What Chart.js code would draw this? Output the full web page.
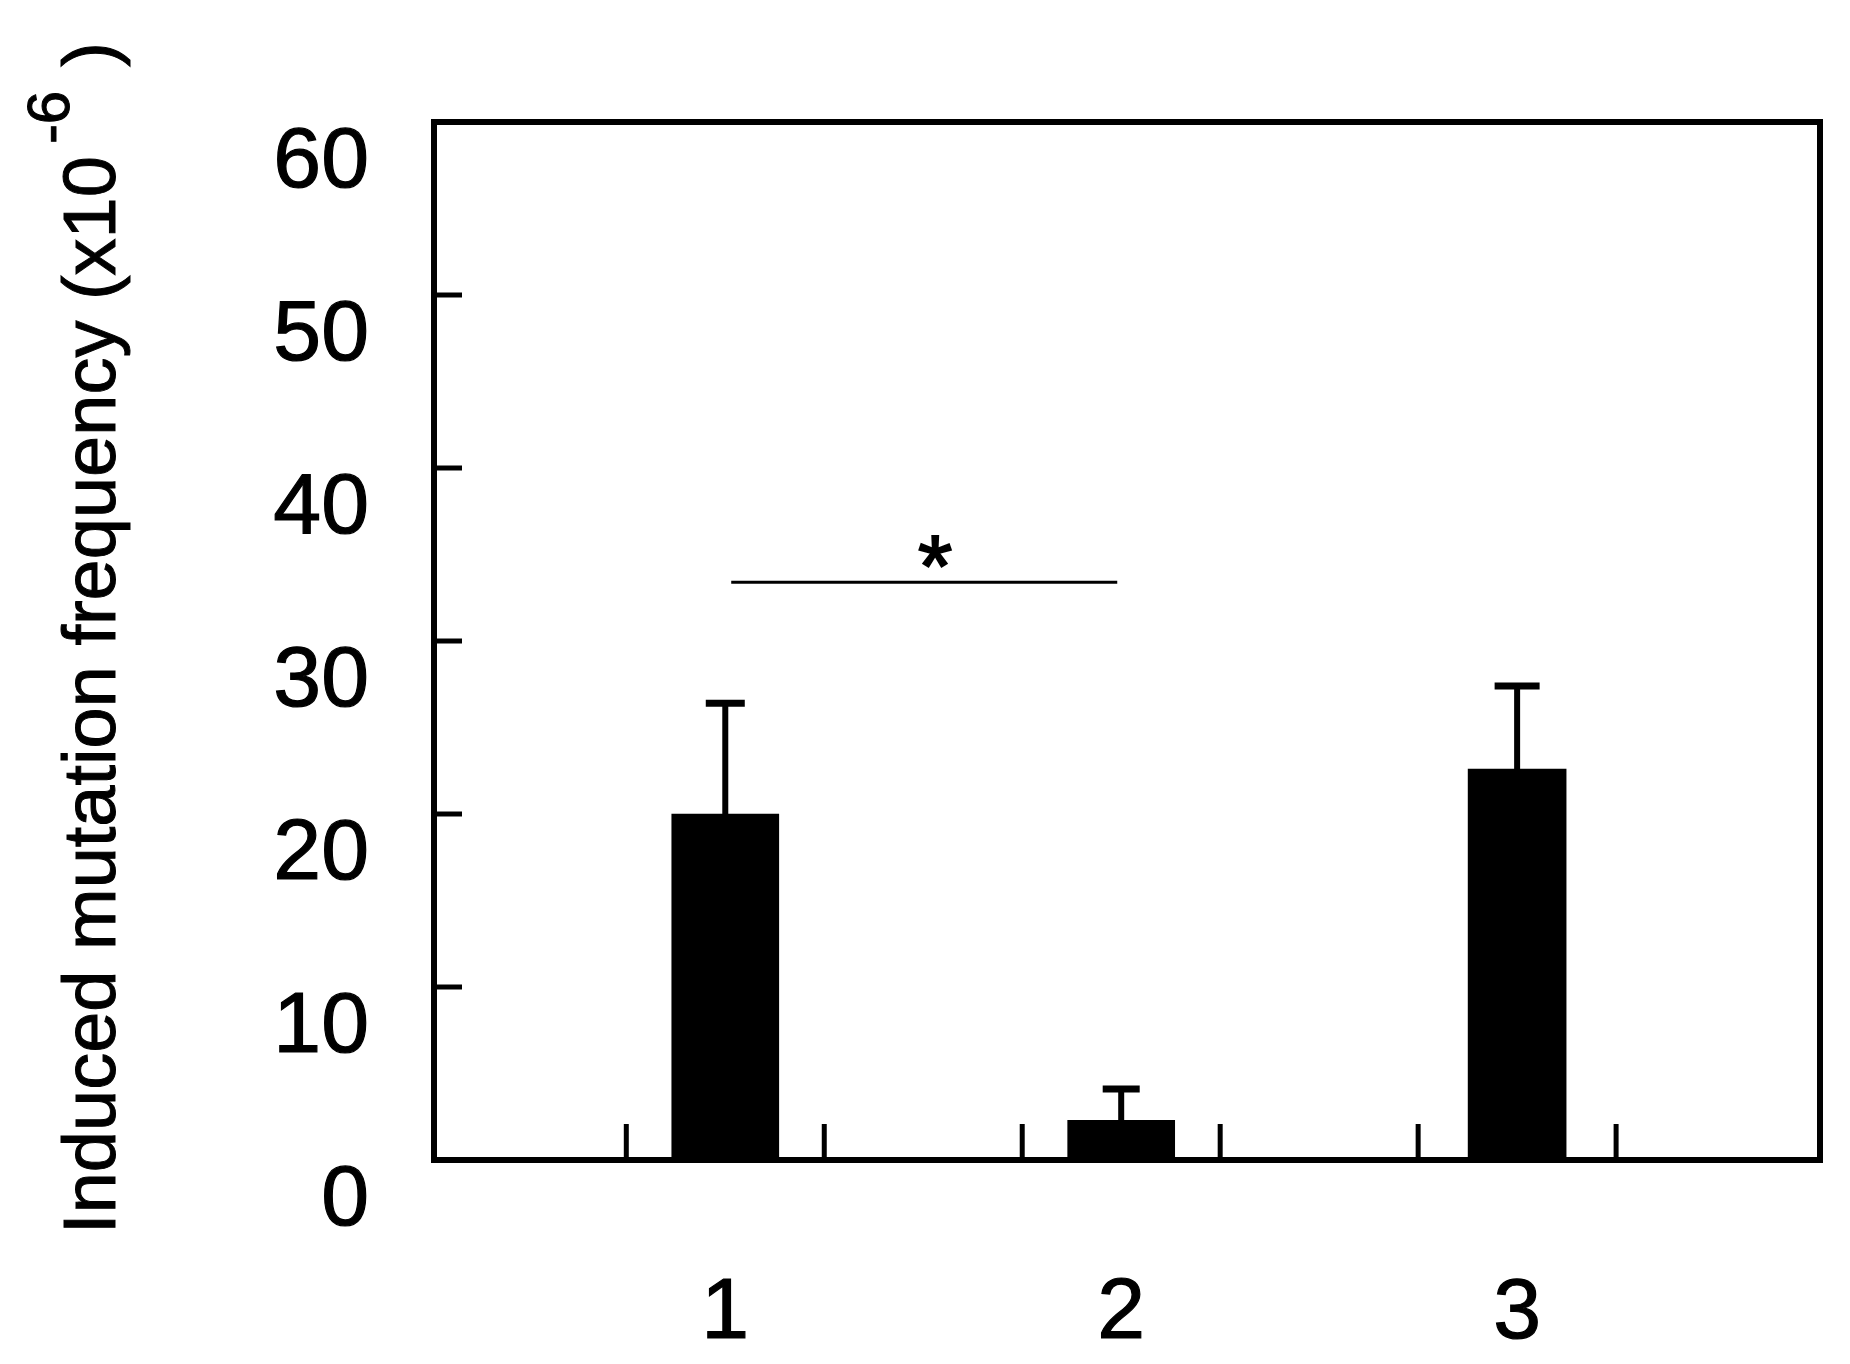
<!DOCTYPE html>
<html>
<head>
<meta charset="utf-8">
<script src="https://cdn.jsdelivr.net/npm/chart.js@4.4.0/dist/chart.umd.min.js"></script>
<style>
  html, body { margin: 0; padding: 0; background: #fff; }
</style>
</head>
<body>
<canvas id="myChart" width="1850" height="1364"></canvas>
<script>
// groups along the x axis
let groups = [1, 2, 3];
let groupLabels = ['1', '2', '3'];
// induced mutation frequency (x10^-6): bar height and top of error bar
let meanValues = [20.0, 2.3, 22.6];
let errorTops = [26.4, 4.1, 27.4];
// inner tick marks
let yTickValues = [10, 20, 30, 40, 50];
let xTickValues = [0.75, 1.25, 1.75, 2.25, 2.75, 3.25];
// significance bracket between group 1 and group 2
let sigFrom = 1.015;
let sigTo = 1.99;
let sigLevel = 33.4;
let sigMarkAt = 1.53;
let sigText = '*';

let fontName = '"Liberation Sans", Arial, Helvetica, sans-serif';

// bars 1 and 2 are slightly wider than bar 3 in the original
let wideIdx = [0, 1];
let barsWide = groups.map((g, i) => ({x: g, y: meanValues[i]})).filter((d, i) => wideIdx.includes(i));
let barsNarrow = groups.map((g, i) => ({x: g, y: meanValues[i]})).filter((d, i) => !wideIdx.includes(i));

// frame, inward ticks, error bars, bracket and the y title with superscript
const extrasPlugin = {
    id: 'extras',
    afterDatasetsDraw(chart) {
        const ctx = chart.ctx;
        const a = chart.chartArea;
        const x = chart.scales.x;
        const y = chart.scales.y;
        ctx.save();
        ctx.strokeStyle = '#000';
        ctx.fillStyle = '#000';
        ctx.lineCap = 'butt';

        // error bars
        const capW = [39, 37, 45];
        groups.forEach((g, i) => {
            const px = x.getPixelForValue(g);
            const y0 = y.getPixelForValue(meanValues[i]);
            const y1 = y.getPixelForValue(errorTops[i]);
            ctx.lineWidth = 6;
            ctx.beginPath();
            ctx.moveTo(px, y0);
            ctx.lineTo(px, y1);
            ctx.stroke();
            ctx.lineWidth = 7;
            ctx.beginPath();
            ctx.moveTo(px - capW[i] / 2, y1);
            ctx.lineTo(px + capW[i] / 2, y1);
            ctx.stroke();
        });

        // inward ticks
        ctx.lineWidth = 5;
        yTickValues.forEach(v => {
            const py = y.getPixelForValue(v);
            ctx.beginPath();
            ctx.moveTo(a.left, py);
            ctx.lineTo(a.left + 28, py);
            ctx.stroke();
        });
        xTickValues.forEach(v => {
            const px = x.getPixelForValue(v);
            ctx.beginPath();
            ctx.moveTo(px, a.bottom);
            ctx.lineTo(px, a.bottom - 36);
            ctx.stroke();
        });

        // frame
        ctx.lineWidth = 6;
        ctx.strokeRect(a.left, a.top, a.right - a.left, a.bottom - a.top);

        // significance bracket
        const sy = y.getPixelForValue(sigLevel);
        ctx.lineWidth = 3;
        ctx.beginPath();
        ctx.moveTo(x.getPixelForValue(sigFrom), sy);
        ctx.lineTo(x.getPixelForValue(sigTo), sy);
        ctx.stroke();
        ctx.font = '88px ' + fontName;
        ctx.textAlign = 'center';
        ctx.textBaseline = 'alphabetic';
        ctx.lineWidth = 2;
        ctx.fillText(sigText, x.getPixelForValue(sigMarkAt), sy + 14);
        ctx.strokeText(sigText, x.getPixelForValue(sigMarkAt), sy + 14);

        // y axis title
        const mainFont = '74px ' + fontName;
        const supFont = '60px ' + fontName;
        const t1 = 'Induced mutation frequency (x10';
        const t2 = '-6';
        const t3 = ')';
        const gap1 = 12;
        const gap2 = 24;
        ctx.font = mainFont;
        const w1 = ctx.measureText(t1).width;
        const w3 = ctx.measureText(t3).width;
        ctx.font = supFont;
        const w2 = ctx.measureText(t2).width;
        const total = w1 + gap1 + w2 + gap2 + w3;
        ctx.translate(115, (a.top + a.bottom) / 2 - 3);
        ctx.rotate(-Math.PI / 2);
        ctx.textAlign = 'left';
        ctx.lineWidth = 1;
        let sx = -total / 2;
        ctx.font = mainFont;
        ctx.fillText(t1, sx, 0);
        ctx.strokeText(t1, sx, 0);
        sx += w1 + gap1;
        ctx.font = supFont;
        ctx.fillText(t2, sx, -46);
        ctx.strokeText(t2, sx, -46);
        sx += w2 + gap2;
        ctx.font = mainFont;
        ctx.fillText(t3, sx, 0);
        ctx.strokeText(t3, sx, 0);
        ctx.restore();
    }
};

let ctx = document.getElementById('myChart').getContext('2d');
let myChart = new Chart(ctx, {
    type: 'bar',
    data: {
        datasets: [
            {
                data: barsWide,
                backgroundColor: '#000',
                borderWidth: 0,
                barThickness: 107,
                grouped: false
            },
            {
                data: barsNarrow,
                backgroundColor: '#000',
                borderWidth: 0,
                barThickness: 98,
                grouped: false
            }
        ]
    },
    options: {
        responsive: false,
        animation: false,
        devicePixelRatio: 1,
        layout: {
            padding: {left: 0, right: 30, top: 122, bottom: 0}
        },
        plugins: {
            legend: {display: false},
            tooltip: {enabled: false}
        },
        scales: {
            x: {
                type: 'linear',
                offset: false,
                min: 0.2643,
                max: 3.765,
                afterBuildTicks: s => { s.ticks = groups.map(v => ({value: v})); },
                afterFit: s => { s.height = 204; },
                grid: {display: false, drawTicks: false, offset: false},
                border: {display: false},
                ticks: {
                    color: '#000',
                    padding: 103,
                    maxRotation: 0,
                    autoSkip: false,
                    textStrokeColor: '#000',
                    textStrokeWidth: 1.2,
                    font: {family: fontName, size: 86, lineHeight: 1.2},
                    callback: v => groupLabels[groups.indexOf(v)]
                }
            },
            y: {
                min: 0,
                max: 60,
                afterFit: s => { s.width = 434; },
                grid: {display: false, drawTicks: false},
                border: {display: false},
                ticks: {
                    stepSize: 10,
                    color: '#000',
                    padding: 65,
                    labelOffset: 41,
                    textStrokeColor: '#000',
                    textStrokeWidth: 1.2,
                    font: {family: fontName, size: 86, lineHeight: 1.2}
                }
            }
        }
    },
    plugins: [extrasPlugin]
});
</script>
</body>
</html>
